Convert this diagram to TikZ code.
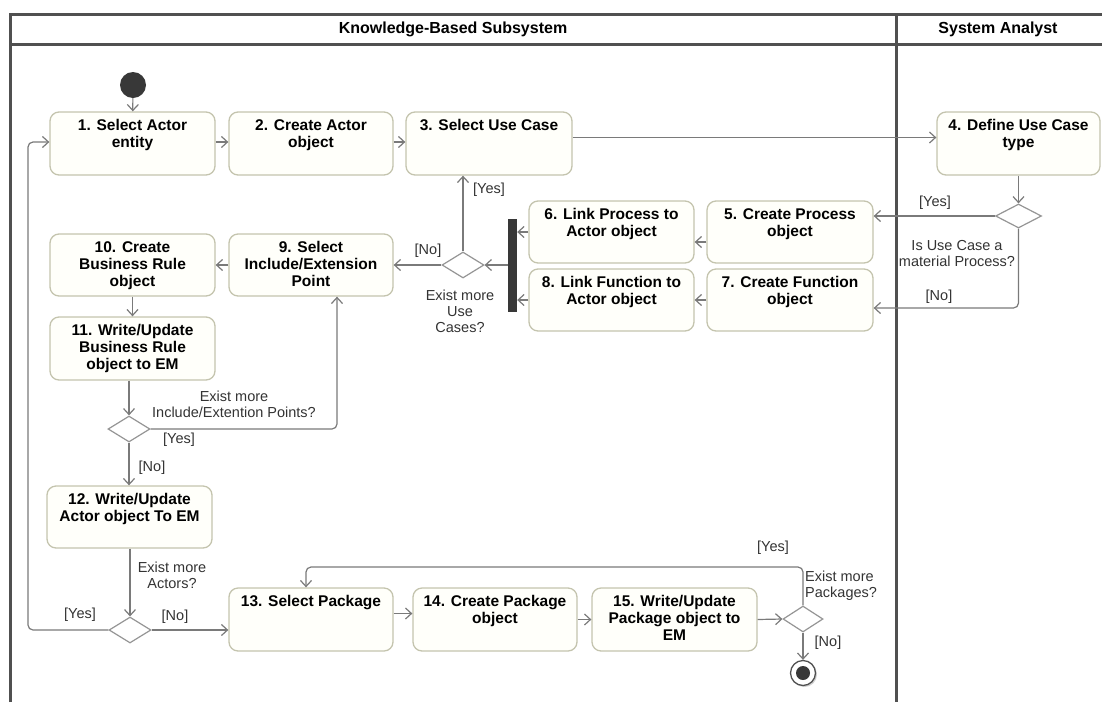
\documentclass[tikz,border=0pt]{standalone}
\usepackage{fontspec}
\setmainfont{Liberation Sans}
\usetikzlibrary{arrows.meta,shapes.geometric,shadows}
\definecolor{boxfill}{HTML}{FFFFFA}
\definecolor{boxline}{HTML}{C4C4AE}
\definecolor{edgec}{HTML}{7A7A7A}
\definecolor{framec}{HTML}{505050}
\definecolor{darkc}{HTML}{383838}
\definecolor{txtc}{HTML}{333333}
\newcommand{\bxt}[3]{\parbox[t][#2][t]{#1}{\centering\rule{0pt}{18pt}#3}}
\tikzset{
  framel/.style={draw=framec, line width=3pt},
  hdr/.style={font=\bfseries\fontsize{16}{18}\selectfont, text=black},
  actbox/.style={draw=boxline, fill=boxfill, rounded corners=9pt, line width=1.3pt, inner sep=0pt,
    font=\bfseries\fontsize{15.5}{17}\selectfont, text=black},
  dec/.style={diamond, draw=edgec!80, fill=white, line width=1.2pt, minimum width=42pt, minimum height=26pt, inner sep=0pt},
  flow/.style={draw=edgec, line width=1.2pt, rounded corners=5pt, -{Straight Barb[length=6pt,width=11pt,line width=1.2pt]}},
  lbl/.style={font=\fontsize{14.5}{16}\selectfont, text=txtc, align=center, inner sep=0pt},
}
\begin{document}
\begin{tikzpicture}[x=1pt,y=-1pt]
\useasboundingbox (0,0) rectangle (1102,702);
% frame
\draw[framel] (10,702) -- (10,14) -- (1102,14);
\draw[framel] (10,44) -- (1102,44);
\draw[framel] (896,14) -- (896,702);
\node[hdr] (h1) at (453,29) {Knowledge-Based Subsystem};
\node[hdr] (h2) at (998,29) {System Analyst};
% initial
\node[circle, fill=darkc, minimum size=26pt, inner sep=0pt] (init) at (133,85) {};
% boxes
\node[actbox] (b1) at (132.5,143.5) {\bxt{165pt}{63pt}{1. Select Actor\\entity}};
\node[actbox] (b2) at (311,143.5) {\bxt{164pt}{63pt}{2. Create Actor\\object}};
\node[actbox] (b3) at (489,143.5) {\bxt{166pt}{63pt}{3. Select Use Case}};
\node[actbox] (b4) at (1018.5,143.5) {\bxt{163pt}{63pt}{4. Define Use Case\\type}};
\node[actbox] (b5) at (790,232) {\bxt{166pt}{62pt}{5. Create Process\\object}};
\node[actbox] (b6) at (611.5,232) {\bxt{165pt}{62pt}{6. Link Process to\\Actor object}};
\node[actbox] (b7) at (790,300) {\bxt{166pt}{62pt}{7. Create Function\\object}};
\node[actbox] (b8) at (611.5,300) {\bxt{165pt}{62pt}{8. Link Function to\\Actor object}};
\node[actbox] (b9) at (311,265) {\bxt{164pt}{62pt}{9. Select\\Include/Extension\\Point}};
\node[actbox] (b10) at (132.5,265) {\bxt{165pt}{62pt}{10. Create\\Business Rule\\object}};
\node[actbox] (b11) at (132.5,348.5) {\bxt{165pt}{63pt}{11. Write/Update\\Business Rule\\object to EM}};
\node[actbox] (b12) at (129.5,517) {\bxt{165pt}{62pt}{12. Write/Update\\Actor object To EM}};
\node[actbox] (b13) at (311,619.5) {\bxt{164pt}{63pt}{13. Select Package}};
\node[actbox] (b14) at (495,619.5) {\bxt{164pt}{63pt}{14. Create Package\\object}};
\node[actbox] (b15) at (674.5,619.5) {\bxt{165pt}{63pt}{15. Write/Update\\Package object to\\EM}};
% bar
\node[fill=darkc, minimum width=9pt, minimum height=93pt, inner sep=0pt] (bar) at (512.5,265.5) {};
% decisions
\node[dec, minimum width=46pt, minimum height=24pt] (d1) at (1018.5,216) {};
\node[dec] (d2) at (463,265) {};
\node[dec] (d3) at (129,429) {};
\node[dec] (d4) at (130,630) {};
\node[dec, minimum width=40pt] (d5) at (803,619) {};
% final
\node[circle, draw=framec, line width=1.3pt, fill=white, minimum size=25pt, inner sep=0pt, drop shadow={shadow xshift=1.5pt, shadow yshift=-1.5pt, opacity=0.35}] (fin) at (803,673) {};
\node[circle, fill=darkc, minimum size=14pt, inner sep=0pt] (finc) at (fin.center) {};
% coordinates for loops
\coordinate (lpx) at (28,400);
\coordinate (ty) at (600,567);
% edges
\draw[flow] (init) -- (b1);
\draw[flow] ([yshift=1.5pt]b1.east) -- ([yshift=1.5pt]b2.west);
\draw[flow] ([yshift=1.5pt]b2.east) -- ([yshift=1.5pt]b3.west);
\draw[flow] ([yshift=6pt]b3.east) -- ([yshift=6pt]b4.west);
\draw[flow] (b4.south) -- (d1.north);
\draw[flow] (d1.west) -- (d1.west -| b5.east);
\draw[flow] (d1.south) |- ([yshift=-8pt]b7.east);
\draw[flow] ([yshift=-10pt]b5.west) -- ([yshift=-10pt]b6.east);
\draw[flow] (b7.west) -- (b8.east);
\draw[flow] (b6.west) -- (b6.west -| bar.east);
\draw[flow] (b8.west) -- (b8.west -| bar.east);
\draw[flow] (bar.west |- d2.east) -- (d2.east);
\draw[flow] (d2.north) -- (d2.north |- b3.south);
\draw[flow] (d2.west) -- (d2.west -| b9.east);
\draw[flow] (b9.west) -- (b10.east);
\draw[flow] (b10.south) -- (b11.north);
\draw[flow] (b11.south -| d3.north) -- (d3.north);
\draw[flow] (d3.east) -| ([xshift=26pt]b9.south);
\draw[flow] (d3.south) -- (d3.south |- b12.north);
\draw[flow] (b12.south -| d4.north) -- (d4.north);
\draw[flow] (d4.west) -| (lpx) |- ([yshift=1.5pt]b1.west);
\draw[flow] (d4.east) -- (d4.east -| b13.west);
\draw[flow] ([yshift=6pt]b13.east) -- ([yshift=6pt]b14.west);
\draw[flow] (b14.east) -- (b15.west);
\draw[flow] (b15.east) -- (d5.west);
\draw[flow] (d5.north) |- (ty) -| ([xshift=-5pt]b13.north);
\draw[flow] (d5.south) -- (fin.north);
% labels
\node[lbl] (l1) at (935,203) {[Yes]};
\node[lbl] (l2) at (957,254) {Is Use Case a\\material Process?};
\node[lbl] (l3) at (939,297) {[No]};
\node[lbl] (l4) at (489,190) {[Yes]};
\node[lbl] (l5) at (428,251) {[No]};
\node[lbl] (l6) at (460,311) {Exist more\\Use\\Cases?};
\node[lbl] (l7) at (234,404) {Exist more\\Include/Extention Points?};
\node[lbl] (l8) at (179,440) {[Yes]};
\node[lbl] (l9) at (152,468) {[No]};
\node[lbl] (l10) at (172,575) {Exist more\\Actors?};
\node[lbl] (l11) at (80,615) {[Yes]};
\node[lbl] (l12) at (175,617) {[No]};
\node[lbl] (l13) at (773,548) {[Yes]};
\node[lbl, anchor=west, align=left] (l14) at (805,586) {Exist more\\Packages?};
\node[lbl] (l15) at (828,643) {[No]};
\end{tikzpicture}
\end{document}
